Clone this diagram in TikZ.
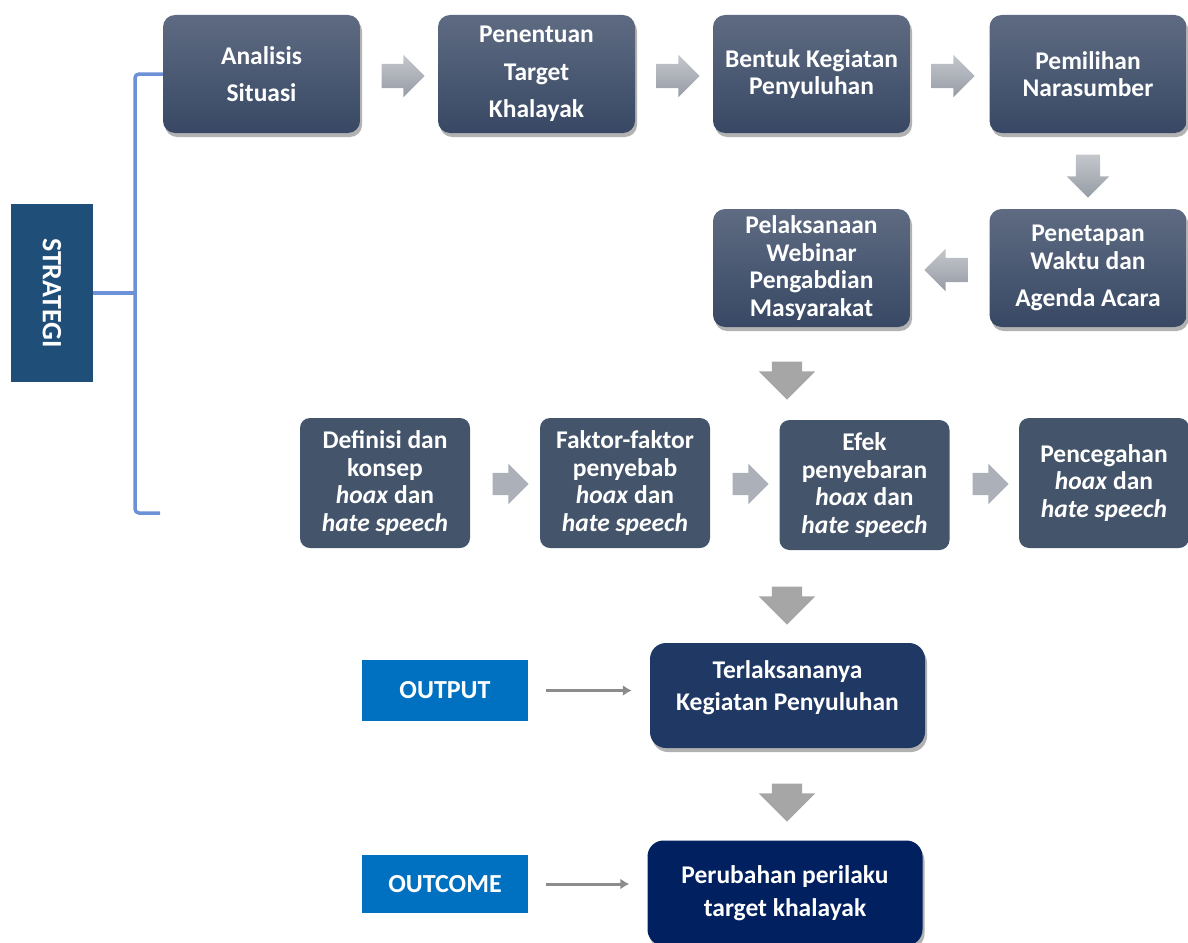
\documentclass[tikz,border=0pt]{standalone}
\usepackage{fontspec}
\setmainfont{Carlito}
\usetikzlibrary{shapes.arrows, shadows, arrows.meta}
\definecolor{boxtop}{RGB}{94,107,130}
\definecolor{boxbot}{RGB}{56,72,100}
\definecolor{topicfill}{RGB}{68,84,106}
\definecolor{resultfill}{RGB}{32,56,100}
\definecolor{outcomefill}{RGB}{0,32,96}
\definecolor{labelfill}{RGB}{0,112,192}
\definecolor{strategifill}{RGB}{31,78,121}
\definecolor{bracketblue}{RGB}{108,145,214}
\definecolor{arrowtop}{RGB}{196,199,204}
\definecolor{arrowbot}{RGB}{150,156,165}
\definecolor{arrowflat}{RGB}{172,177,185}
\definecolor{downgray}{RGB}{166,166,166}
\definecolor{linegray}{RGB}{140,140,140}

\begin{document}
\begin{tikzpicture}[x=1pt, y=-1pt, font={\bfseries\fontsize{25.5}{27.5}\selectfont}]

		% Setup the styles for the boxes and arrows
		\tikzset{flow box/.style={rectangle,
				rounded corners=12pt,
				minimum width=197pt,
				minimum height=118pt,
				inner sep=0pt,
				align=center,
				text=white,
				top color=boxtop,
				bottom color=boxbot,
				drop shadow={shadow xshift=2pt, shadow yshift=-4pt, opacity=0.3, fill=black}},
			topic box/.style={rectangle,
				rounded corners=10pt,
				minimum width=170pt,
				minimum height=130pt,
				inner sep=0pt,
				align=center,
				text=white,
				fill=topicfill},
			result box/.style={rectangle,
				rounded corners=16pt,
				minimum width=275pt,
				minimum height=105pt,
				inner sep=0pt,
				align=center,
				text=white,
				drop shadow={shadow xshift=2pt, shadow yshift=-4pt, opacity=0.3, fill=black}},
			tag box/.style={rectangle,
				minimum width=166pt,
				minimum height=61pt,
				inner sep=0pt,
				text=white,
				fill=labelfill},
			flow arrow/.style={single arrow,
				draw=none,
				inner sep=0pt,
				inner ysep=12pt,
				minimum height=43pt,
				single arrow head extend=9pt,
				top color=arrowtop,
				bottom color=arrowbot},
			topic arrow/.style={single arrow,
				draw=none,
				inner sep=0pt,
				inner ysep=11pt,
				minimum height=36pt,
				single arrow head extend=9pt,
				fill=arrowflat},
			down arrow/.style={single arrow,
				draw=none,
				inner sep=0pt,
				inner xsep=15pt,
				minimum height=38pt,
				single arrow head extend=13pt,
				shape border rotate=270,
				fill=downgray}}

		\useasboundingbox (0,0) rectangle (1188,942);

		% Strategi label and bracket
		\node[rectangle, fill=strategifill, text=white, rotate=-90,
			font={\bfseries\fontsize{28}{30}\selectfont},
			minimum width=178pt, minimum height=82pt, inner sep=0pt] at (52,293) (strategi) {STRATEGI};
		\coordinate (brtop) at (135,74);
		\coordinate (brbot) at (160,513);

		% Draw the process boxes
		\node[flow box] at (261.5,74)  (analisis)    {Analisis\\[10pt]Situasi};
		\node[flow box] at (536.5,74)  (penentuan)   {Penentuan\\[10pt]Target\\[10pt]Khalayak};
		\node[flow box] at (811.5,74)  (bentuk)      {Bentuk Kegiatan\\Penyuluhan};
		\node[flow box] at (1088,74)   (pemilihan)   {Pemilihan\\Narasumber};
		\node[flow box] at (1088,268)  (penetapan)   {Penetapan\\Waktu dan\\[10pt]Agenda Acara};
		\node[flow box] at (811.5,268) (pelaksanaan) {Pelaksanaan\\Webinar\\Pengabdian\\Masyarakat};

		% Draw the topic boxes
		\node[topic box] at (385,483)   (definisi)   {Definisi dan\\konsep\\\textit{hoax} dan\\\textit{hate speech}};
		\node[topic box] at (625,483)   (faktor)     {Faktor-faktor\\penyebab\\\textit{hoax} dan\\\textit{hate speech}};
		\node[topic box] at (864.5,485) (efek)       {Efek\\penyebaran\\\textit{hoax} dan\\\textit{hate speech}};
		\node[topic box] at (1104,483)  (pencegahan) {Pencegahan\\\textit{hoax} dan\\\textit{hate speech}};

		% Draw the results
		\node[result box, fill=resultfill]  at (787.5,695.5) (terlaksana) {Terlaksananya\\[5pt]Kegiatan Penyuluhan\\[-8pt]\mbox{}};
		\node[result box, fill=outcomefill] at (785,893)     (perubahan)  {Perubahan perilaku\\[5pt]target khalayak};
		\node[tag box, font={\bfseries\fontsize{26}{28}\selectfont}] at (445,690.5) (output)  {OUTPUT};
		\node[tag box, font={\bfseries\fontsize{26}{28}\selectfont}, minimum height=58pt] at (445,884) (outcome) {OUTCOME};

		% Block arrows between the boxes
		\node[flow arrow] at (397,76)  (ar1) {};
		\node[flow arrow] at (672,76)  (ar2) {};
		\node[flow arrow] at (947,76)  (ar3) {};
		\node[flow arrow, shape border rotate=270, inner ysep=0pt, inner xsep=12pt] at (1088,170) (ar4) {};
		\node[flow arrow, shape border rotate=180] at (952,270)  (ar5) {};
		\node[down arrow] at (787,373) (dn1) {};
		\node[topic arrow] at (505,484) (tp1) {};
		\node[topic arrow] at (745,484) (tp2) {};
		\node[topic arrow] at (985,484) (tp3) {};
		\node[down arrow] at (787,598) (dn2) {};
		\node[down arrow] at (787,795) (dn3) {};

		% Connect with lines
		\draw[bracketblue, line width=3.5pt, rounded corners=4pt]
		(analisis.west) -- (brtop) |- (brbot);
		\draw[bracketblue, line width=3.5pt] (strategi.north) -- (strategi.north -| brtop);
		\draw[linegray, line width=3pt, -{Latex[length=9pt,width=11pt]}, shorten <=18pt, shorten >=18pt]
		(output.east) -- (output.east -| terlaksana.west);
		\draw[linegray, line width=3pt, -{Latex[length=9pt,width=11pt]}, shorten <=18pt, shorten >=18pt]
		(outcome.east) -- (outcome.east -| perubahan.west);
\end{tikzpicture}
\end{document}
